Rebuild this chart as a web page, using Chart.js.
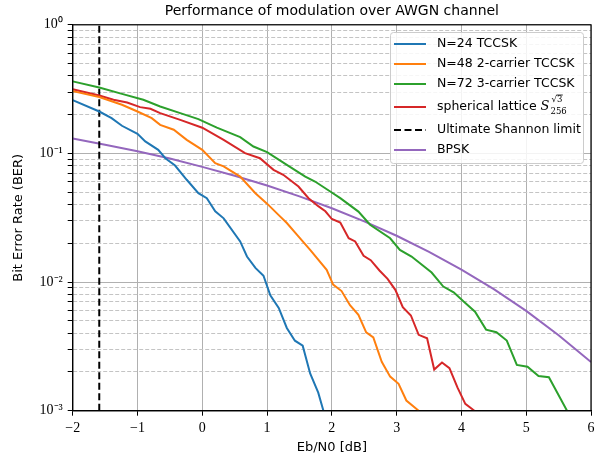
<!DOCTYPE html>
<html>
<head>
<meta charset="utf-8">
<script src="https://cdn.jsdelivr.net/npm/chart.js@4.4.1/dist/chart.umd.min.js"></script>
<style>
  html, body { margin: 0; padding: 0; background: #fff; }
  #wrap { width: 613px; height: 458px; }
</style>
</head>
<body>
<div id="wrap"><canvas id="berChart" width="613" height="458"></canvas></div>
<script>
// values (Eb/N0 in dB, BER)
const blueX = [-2, -1.59, -1.40, -1.24, -1.0, -0.88, -0.68, -0.57, -0.42, -0.24, -0.06, 0.07, 0.20, 0.33, 0.585, 0.69, 0.82, 0.945, 1.05, 1.18, 1.305, 1.43, 1.55, 1.665, 1.79, 1.87];
const blueY = [0.2594, 0.2118, 0.1879, 0.1641, 0.1419, 0.1239, 0.1067, 0.0918, 0.0805, 0.0624, 0.0491, 0.0449, 0.0355, 0.0313, 0.0207, 0.0158, 0.0129, 0.0112, 0.0079, 0.0063, 0.0044, 0.0035, 0.0032, 0.00195, 0.00138, 0.001];

const orangeX = [-2, -1.59, -1.24, -1.0, -0.78, -0.65, -0.44, -0.24, 0.0, 0.2, 0.33, 0.585, 0.82, 1.0, 1.2, 1.305, 1.46, 1.665, 1.92, 2.02, 2.15, 2.28, 2.41, 2.53, 2.64, 2.77, 2.90, 3.03, 3.15, 3.34];
const orangeY = [0.305, 0.2742, 0.2388, 0.2118, 0.1879, 0.1667, 0.1528, 0.1276, 0.1067, 0.0839, 0.0794, 0.0661, 0.0490, 0.0407, 0.0324, 0.0288, 0.0234, 0.0178, 0.01245, 0.00955, 0.00851, 0.00661, 0.00556, 0.00407, 0.00372, 0.0024, 0.00184, 0.00162, 0.0012, 0.001];

const greenX = [-2, -1.59, -1.24, -0.91, -0.65, -0.34, -0.06, 0.225, 0.585, 0.79, 1.0, 1.305, 1.59, 1.74, 1.975, 2.13, 2.41, 2.59, 2.90, 3.05, 3.23, 3.54, 3.72, 3.88, 4.03, 4.21, 4.38, 4.54, 4.70, 4.855, 5.02, 5.19, 5.35, 5.63];
const greenY = [0.3631, 0.3258, 0.2904, 0.2612, 0.2317, 0.2056, 0.1849, 0.1585, 0.1340, 0.1132, 0.1023, 0.0815, 0.0661, 0.0605, 0.0506, 0.0449, 0.0353, 0.0279, 0.0219, 0.0178, 0.0158, 0.01186, 0.00923, 0.00832, 0.00708, 0.00589, 0.00427, 0.00407, 0.00351, 0.00227, 0.0022, 0.00186, 0.00182, 0.001];

const redX = [-2, -1.59, -1.37, -1.16, -0.96, -0.80, -0.65, -0.34, 0.0, 0.33, 0.66, 0.89, 1.10, 1.25, 1.485, 1.64, 1.79, 1.9, 2.0, 2.13, 2.26, 2.36, 2.49, 2.60, 2.735, 2.86, 2.98, 3.095, 3.22, 3.34, 3.47, 3.58, 3.70, 3.815, 3.94, 4.06, 4.20];
const redY = [0.316, 0.2818, 0.2612, 0.2489, 0.2291, 0.2223, 0.2056, 0.1824, 0.1585, 0.1276, 0.1005, 0.0918, 0.0745, 0.0682, 0.0553, 0.0449, 0.0389, 0.0355, 0.0309, 0.0290, 0.0219, 0.0207, 0.0160, 0.0148, 0.0123, 0.0106, 0.0087, 0.00638, 0.0055, 0.00389, 0.00366, 0.00209, 0.00237, 0.00214, 0.00151, 0.00113, 0.001];

const shannonX = [-1.59, -1.59];
const shannonY = [0.001, 1];

const bpskX = [-2, -1.5, -1, -0.5, 0, 0.5, 1, 1.5, 2, 2.5, 3, 3.5, 4, 4.5, 5, 5.5, 6];
const bpskY = [0.1306, 0.117, 0.104, 0.0912, 0.0786, 0.067, 0.0563, 0.0464, 0.0375, 0.0296, 0.0229, 0.0172, 0.0125, 0.00882, 0.00597, 0.00386, 0.00239];

const seriesLabels = ['N=24 TCCSK', 'N=48 2-carrier TCCSK', 'N=72 3-carrier TCCSK', 'spherical lattice', 'Ultimate Shannon limit', 'BPSK'];

const xTicks = [-2, -1, 0, 1, 2, 3, 4, 5, 6];
const yTicks = [0.001, 0.002, 0.003, 0.004, 0.005, 0.006, 0.007, 0.008, 0.009,
                0.01, 0.02, 0.03, 0.04, 0.05, 0.06, 0.07, 0.08, 0.09,
                0.1, 0.2, 0.3, 0.4, 0.5, 0.6, 0.7, 0.8, 0.9, 1];
const yDecadeLabels = { '0.001': '10\u207B\u00B3', '0.01': '10\u207B\u00B2', '0.1': '10\u207B\u00B9', '1': '10\u2070' };

function pts(xs, ys) {
  return xs.map((x, i) => ({ x: x, y: ys[i] }));
}
function isDecade(v) {
  return yDecadeLabels[String(v)] !== undefined;
}

const colors = ['#1f77b4', '#ff7f0e', '#2ca02c', '#d62728', '#000000', '#9467bd'];
const allX = [blueX, orangeX, greenX, redX, shannonX, bpskX];
const allY = [blueY, orangeY, greenY, redY, shannonY, bpskY];

const datasets = seriesLabels.map((lab, i) => ({
  label: lab,
  data: pts(allX[i], allY[i]),
  borderColor: colors[i],
  backgroundColor: colors[i],
  borderWidth: 2,
  borderDash: i === 4 ? [7, 3.5] : [],
  pointRadius: 0,
  tension: 0,
  fill: false
}));

// black frame round the plot, like matplotlib spines
const framePlugin = {
  id: 'frame',
  afterDraw(chart) {
    const a = chart.chartArea, c = chart.ctx;
    c.save();
    c.strokeStyle = '#000';
    c.lineWidth = 1.2;
    c.strokeRect(a.left, a.top, a.right - a.left, a.bottom - a.top);
    c.restore();
  }
};

// legend box drawn inside the plot (top right)
const boxLegend = {
  id: 'boxLegend',
  afterDraw(chart) {
    const c = chart.ctx;
    const bx = 390, by = 32, bw = 193, bh = 131;
    c.save();
    c.fillStyle = 'rgba(255,255,255,0.85)';
    c.strokeStyle = '#cccccc';
    c.lineWidth = 1;
    c.beginPath();
    c.roundRect(bx + 0.5, by + 0.5, bw, bh, 3);
    c.fill();
    c.stroke();
    const rows = [44, 64, 84, 107, 130, 150];
    c.font = '12.5px "DejaVu Sans"';
    c.textBaseline = 'middle';
    chart.data.datasets.forEach((ds, i) => {
      const y = rows[i];
      c.strokeStyle = ds.borderColor;
      c.lineWidth = 2;
      c.setLineDash(ds.borderDash || []);
      c.beginPath();
      c.moveTo(394, y);
      c.lineTo(426, y);
      c.stroke();
      c.setLineDash([]);
      c.fillStyle = '#000';
      c.fillText(ds.label, 437, y);
      if (i === 3) {
        let x = 437 + c.measureText(ds.label + ' ').width;
        c.font = 'italic 13px "DejaVu Serif"';
        c.fillText('S', x, y);
        x += c.measureText('S').width + 1;
        c.font = '8.5px "DejaVu Serif"';
        c.fillText('256', x, y + 5);
        c.fillText('\u221A3', x + 1, y - 7);
        const w = c.measureText('3').width;
        const sw = c.measureText('\u221A').width;
        c.lineWidth = 0.8;
        c.strokeStyle = '#000';
        c.beginPath();
        c.moveTo(x + 1 + sw - 0.5, y - 12);
        c.lineTo(x + 1 + sw + w + 0.5, y - 12);
        c.stroke();
        c.font = '12.5px "DejaVu Sans"';
      }
    });
    c.restore();
  }
};

new Chart(document.getElementById('berChart'), {
  type: 'line',
  data: { datasets: datasets },
  plugins: [framePlugin, boxLegend],
  options: {
    responsive: false,
    animation: false,
    layout: { padding: { left: 0, right: 22, top: 0, bottom: 0 } },
    plugins: {
      legend: { display: false },
      tooltip: { enabled: false },
      title: {
        display: true,
        fullSize: false,
        text: 'Performance of modulation over AWGN channel',
        color: '#000',
        font: { family: '"DejaVu Sans"', size: 14, weight: 'normal' },
        padding: { top: 3, bottom: 5 }
      }
    },
    scales: {
      x: {
        type: 'linear',
        min: -2,
        max: 6,
        afterBuildTicks: (scale) => { scale.ticks = xTicks.map(v => ({ value: v })); },
        afterFit: (scale) => { scale.height = 47.3; },
        ticks: {
          color: '#000',
          font: { family: '"Liberation Serif"', size: 14 },
          padding: 4,
          maxRotation: 0,
          autoSkip: false,
          callback: (v) => String(v).replace('-', '\u2212')
        },
        grid: { color: '#b0b0b0', lineWidth: 1, tickColor: '#000', tickLength: 5 },
        border: { display: true, color: '#000', width: 1.2 },
        title: {
          display: true,
          text: 'Eb/N0 [dB]',
          color: '#000',
          font: { family: '"DejaVu Sans"', size: 13 },
          padding: { top: 0, bottom: 3 }
        }
      },
      y: {
        type: 'logarithmic',
        min: 0.001,
        max: 1,
        afterBuildTicks: (scale) => { scale.ticks = yTicks.map(v => ({ value: v })); },
        afterFit: (scale) => { scale.width = 72.7; },
        ticks: {
          color: '#000',
          font: { family: '"Liberation Serif"', size: 14 },
          padding: 5,
          autoSkip: false,
          callback: (v) => yDecadeLabels[String(v)] || ''
        },
        grid: {
          color: (ctx) => (ctx.tick && isDecade(ctx.tick.value)) ? '#b0b0b0' : '#c4c4c4',
          lineWidth: 1,
          tickColor: '#000',
          tickLength: 5
        },
        border: {
          display: true,
          color: '#000',
          width: 1.2,
          dash: (ctx) => (ctx.tick && !isDecade(ctx.tick.value)) ? [4, 2] : []
        },
        title: {
          display: true,
          text: 'Bit Error Rate (BER)',
          color: '#000',
          font: { family: '"DejaVu Sans"', size: 13 },
          padding: { top: 11, bottom: 0 }
        }
      }
    }
  }
});
</script>
</body>
</html>
